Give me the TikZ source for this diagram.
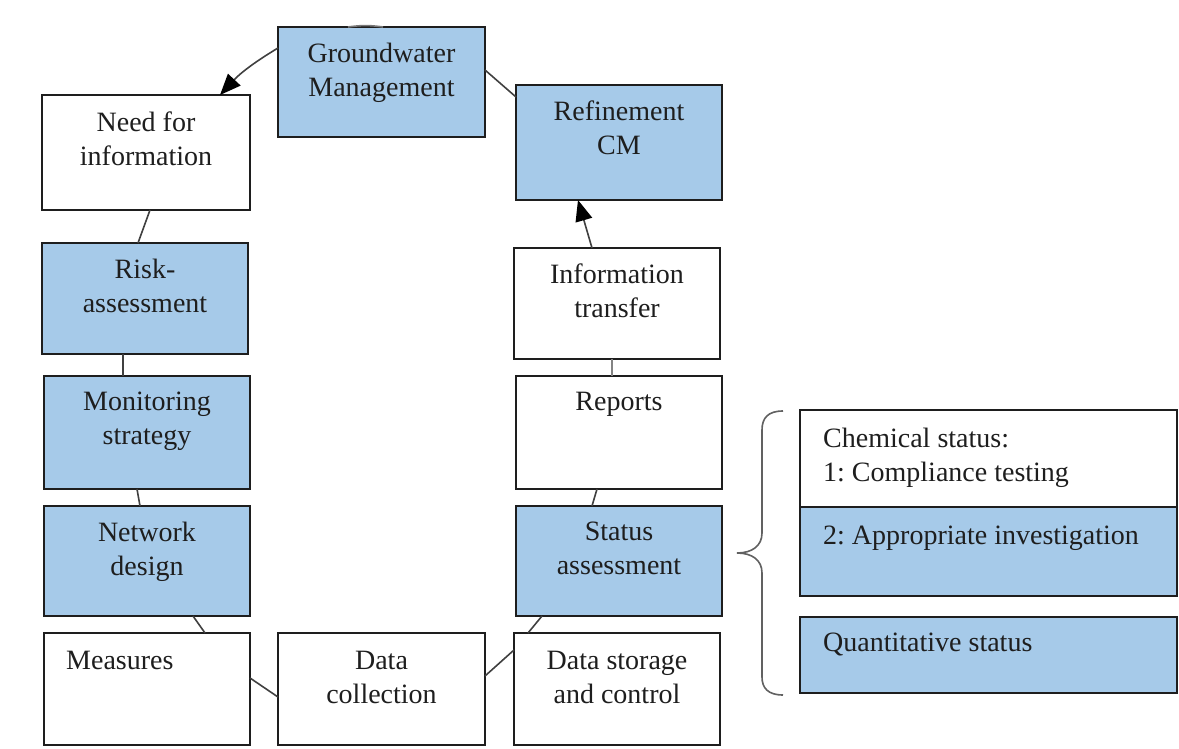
\documentclass[tikz,border=0pt]{standalone}
\usepackage{fontspec}
\setmainfont{Liberation Serif}
\usetikzlibrary{arrows.meta}
\definecolor{boxblue}{RGB}{166,202,233}
\definecolor{ink}{RGB}{30,30,30}
\begin{document}
\frenchspacing
\begin{tikzpicture}[x=1pt,y=-1pt,
  box/.style={draw=ink,line width=2pt,inner sep=0pt,outer sep=0pt},
  bbox/.style={box,fill=boxblue},
  wbox/.style={box,fill=white},
  txt/.style={font=\fontsize{28}{34}\selectfont\frenchspacing,text=ink,inner sep=0pt,align=center,anchor=north},
  ltxt/.style={txt,align=left,anchor=north west},
  conn/.style={draw=ink!85,line width=1.6pt},
  arr/.style={conn,-{Triangle[length=21pt,width=17pt,color=black]}},
  brace/.style={draw=ink!70,line width=1.6pt},
]
\useasboundingbox (0,0) rectangle (1179,749);
\fill[white] (0,0) rectangle (1179,749);

% boxes
\node[bbox,minimum width=207pt,minimum height=110pt] (gw) at (381.5,82) {};
\node[wbox,minimum width=208pt,minimum height=115pt] (need) at (146,152.5) {};
\node[bbox,minimum width=206pt,minimum height=111pt] (risk) at (145,298.5) {};
\node[bbox,minimum width=206pt,minimum height=113pt] (mon) at (147,432.5) {};
\node[bbox,minimum width=206pt,minimum height=110pt] (net) at (147,561) {};
\node[wbox,minimum width=206pt,minimum height=112pt] (meas) at (147,689) {};
\node[wbox,minimum width=207pt,minimum height=112pt] (dc) at (381.5,689) {};
\node[wbox,minimum width=206pt,minimum height=112pt] (ds) at (617,689) {};
\node[bbox,minimum width=206pt,minimum height=110pt] (stat) at (619,561) {};
\node[wbox,minimum width=206pt,minimum height=113pt] (rep) at (619,432.5) {};
\node[wbox,minimum width=206pt,minimum height=111pt] (it) at (617,303.5) {};
\node[bbox,minimum width=206pt,minimum height=115pt] (ref) at (619,142.5) {};
\node[wbox,minimum width=377pt,minimum height=97pt] (chem) at (988.5,458.5) {};
\node[bbox,minimum width=377pt,minimum height=89pt] (app) at (988.5,551.5) {};
\node[bbox,minimum width=377pt,minimum height=76pt] (quant) at (988.5,655) {};

% texts
\node[txt] (tgw) at ([yshift=-16pt]gw.north) {Groundwater\\Management};
\node[txt] (tneed) at ([yshift=-17pt]need.north) {Need for\\information};
\node[txt] (trisk) at ([yshift=-16pt]risk.north) {Risk-\\assessment};
\node[txt] (tmon) at ([yshift=-16pt]mon.north) {Monitoring\\strategy};
\node[txt] (tnet) at ([yshift=-16pt]net.north) {Network\\design};
\node[ltxt] (tmeas) at ([xshift=22pt,yshift=-18pt]meas.north west) {Measures};
\node[txt] (tdc) at ([yshift=-18pt]dc.north) {Data\\collection};
\node[txt] (tds) at ([yshift=-18pt]ds.north) {Data storage\\and control};
\node[txt] (tstat) at ([yshift=-16pt]stat.north) {Status\\assessment};
\node[txt] (trep) at ([yshift=-16pt]rep.north) {Reports};
\node[txt] (tit) at ([yshift=-16pt]it.north) {Information\\transfer};
\node[txt] (tref) at ([yshift=-16pt]ref.north) {Refinement\\CM};
\node[ltxt] (tchem) at ([xshift=23pt,yshift=-18pt]chem.north west) {Chemical status:\\1: Compliance testing};
\node[ltxt] (tapp) at ([xshift=23pt,yshift=-19pt]app.north west) {2: Appropriate investigation};
\node[ltxt] (tquant) at ([xshift=23pt,yshift=-16pt]quant.north west) {Quantitative status};

% connectors
\draw[conn,draw=ink!60] ([xshift=70pt]gw.north west) to[bend left=8] ([xshift=105pt]gw.north west);
\draw[arr] ([yshift=-21pt]gw.north west) to[bend right=8] ([xshift=178pt]need.north west);
\draw[conn] ([yshift=-43pt]gw.north east) -- ([yshift=-12pt]ref.north west);
\draw[arr] ([xshift=78pt]it.north west) -- ([xshift=62pt]ref.south west);
\draw[conn,draw=ink!55] ([xshift=98pt]it.south west) -- ([xshift=96pt]rep.north west);
\draw[conn] ([xshift=81pt]rep.south west) -- ([xshift=76pt]stat.north west);
\draw[conn] ([xshift=26pt]stat.south west) -- ([xshift=14pt]ds.north west);
\draw[conn] ([yshift=-17pt]ds.north west) -- ([yshift=-43pt]dc.north east);
\draw[conn] ([yshift=-64pt]dc.north west) -- ([yshift=-45pt]meas.north east);
\draw[conn] ([xshift=161pt]meas.north west) -- ([xshift=149pt]net.south west);
\draw[conn] ([xshift=96pt]net.north west) -- ([xshift=93pt]mon.south west);
\draw[conn] ([xshift=79pt]mon.north west) -- ([xshift=81pt]risk.south west);
\draw[conn] ([xshift=96pt]risk.north west) -- ([xshift=108pt]need.south west);

% brace
\draw[brace] (783,411) .. controls (768,411) and (762,418) .. (762,430) -- (762,533)
  .. controls (762,546) and (752,553) .. (737,553)
  .. controls (752,553) and (762,560) .. (762,573) -- (762,677)
  .. controls (762,688) and (768,695) .. (783,695);
\end{tikzpicture}
\end{document}
